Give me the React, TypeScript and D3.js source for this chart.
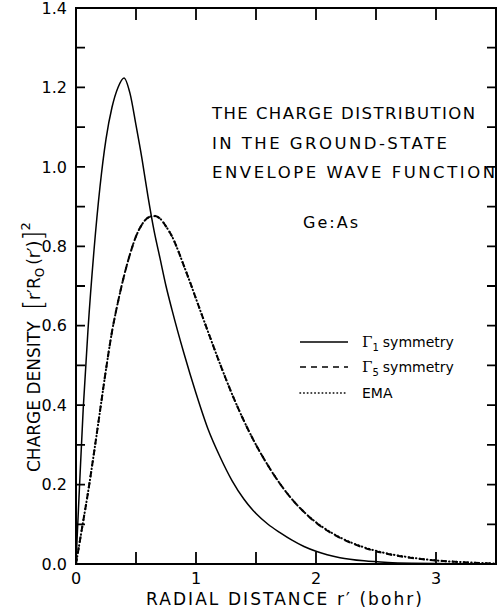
import React, { useEffect, useRef } from "react";
import * as d3 from "d3";

// radial distance r' (bohr) and charge density
const rGamma1 = [0, 0.01, 0.03, 0.06, 0.1, 0.15, 0.2, 0.25, 0.3, 0.35, 0.4, 0.45, 0.5, 0.55, 0.6, 0.65, 0.7, 0.75, 0.8, 0.9, 1.0, 1.1, 1.2, 1.3, 1.4, 1.5, 1.6, 1.7, 1.8, 1.9, 2.0, 2.2, 2.4, 2.6, 2.8, 3.0, 3.2, 3.5];
const gamma1 = [0, 0.07, 0.2, 0.39, 0.59, 0.79, 0.95, 1.07, 1.15, 1.2, 1.224, 1.185, 1.105, 1.02, 0.925, 0.84, 0.77, 0.7, 0.64, 0.53, 0.43, 0.34, 0.27, 0.21, 0.163, 0.127, 0.1, 0.079, 0.06, 0.044, 0.032, 0.016, 0.008, 0.004, 0.002, 0.001, 0.0005, 0];

const rGamma5 = [0, 0.05, 0.1, 0.15, 0.2, 0.25, 0.3, 0.35, 0.4, 0.45, 0.5, 0.55, 0.6, 0.65, 0.7, 0.75, 0.8, 0.85, 0.9, 0.95, 1.0, 1.1, 1.2, 1.3, 1.4, 1.5, 1.6, 1.7, 1.8, 1.9, 2.0, 2.2, 2.4, 2.6, 2.8, 3.0, 3.2, 3.5];
const gamma5 = [0, 0.09, 0.18, 0.28, 0.385, 0.49, 0.585, 0.66, 0.725, 0.78, 0.825, 0.855, 0.872, 0.877, 0.87, 0.85, 0.825, 0.79, 0.75, 0.71, 0.668, 0.585, 0.504, 0.428, 0.36, 0.3, 0.248, 0.202, 0.163, 0.131, 0.104, 0.066, 0.041, 0.025, 0.015, 0.009, 0.005, 0.001];
const ema = [0, 0.09, 0.18, 0.28, 0.385, 0.49, 0.585, 0.66, 0.725, 0.78, 0.825, 0.855, 0.872, 0.876, 0.87, 0.85, 0.825, 0.79, 0.75, 0.71, 0.668, 0.585, 0.504, 0.428, 0.36, 0.3, 0.248, 0.202, 0.163, 0.131, 0.105, 0.067, 0.042, 0.026, 0.016, 0.009, 0.005, 0.001];

const xTicks = [0.5, 1, 1.5, 2, 2.5, 3];
const xLabels = [0, 1, 2, 3];
const yLabels = [0, 0.2, 0.4, 0.6, 0.8, 1.0, 1.2, 1.4];
const yTicks = [0.1, 0.2, 0.3, 0.4, 0.5, 0.6, 0.7, 0.8, 0.9, 1.0, 1.1, 1.2, 1.3];

const titleLines = ["THE CHARGE DISTRIBUTION", "IN THE GROUND-STATE", "ENVELOPE WAVE FUNCTION"];
const titleWidths = [263, 235, 283];

const font = "'DejaVu Sans', sans-serif";

const left = 76;
const right = 496;
const top = 8;
const bottom = 564;

const x = d3.scaleLinear().domain([0, 3.5]).range([left, right]);
const y = d3.scaleLinear().domain([0, 1.4]).range([bottom, top]);

const App = () => {
  const ref = useRef<SVGSVGElement>(null);

  useEffect(() => {
    const svg = d3.select(ref.current).select("g.chart");
    svg.selectAll("*").remove();

    const line = (xs) =>
      d3
        .line<number>()
        .x((d, i) => x(xs[i]))
        .y((d) => y(d))
        .curve(d3.curveMonotoneX);

    svg
      .append("path")
      .attr("d", line(rGamma5)(gamma5))
      .attr("fill", "none")
      .attr("stroke", "#000")
      .attr("stroke-width", 2)
      .attr("stroke-dasharray", "6,5");

    svg
      .append("path")
      .attr("d", line(rGamma5)(ema))
      .attr("fill", "none")
      .attr("stroke", "#000")
      .attr("stroke-width", 2)
      .attr("stroke-linecap", "round")
      .attr("stroke-dasharray", "0.5,3.2");

    svg
      .append("path")
      .attr("d", line(rGamma1)(gamma1))
      .attr("fill", "none")
      .attr("stroke", "#000")
      .attr("stroke-width", 1.5);

    const legend = [
      { dash: null, w: 1.5, label: "symmetry", sub: "1", y: 342 },
      { dash: "6,5", w: 1.6, label: "symmetry", sub: "5", y: 367 },
      { dash: "0.5,3.2", w: 1.6, label: "EMA", sub: null, y: 393 },
    ];
    legend.forEach((l) => {
      svg
        .append("line")
        .attr("x1", 300)
        .attr("x2", 348)
        .attr("y1", l.y)
        .attr("y2", l.y)
        .attr("stroke", "#000")
        .attr("stroke-width", l.w)
        .attr("stroke-linecap", l.dash === "0.5,3.2" ? "round" : "butt")
        .attr("stroke-dasharray", l.dash);
      const t = svg
        .append("text")
        .attr("x", 362)
        .attr("y", l.y + 5)
        .style("font-family", font)
        .style("font-size", "14px");
      if (l.sub) {
        t.append("tspan").style("font-family", "'DejaVu Serif', serif").style("font-size", "15px").text("Γ");
        t.append("tspan").attr("dy", 4).style("font-size", "10px").text(l.sub);
        t.append("tspan").attr("dy", -4).attr("dx", 4).text(l.label);
      } else {
        t.append("tspan").text(l.label);
      }
    });

    const yl = svg
      .append("text")
      .attr("transform", "translate(40,472) rotate(-90)")
      .style("font-family", font)
      .style("font-size", "17px");
    yl.append("tspan").text("CHARGE DENSITY ");
    yl.append("tspan").attr("dx", 6).attr("dy", 2).style("font-size", "26px").style("font-weight", "200").text("[");
    yl.append("tspan").attr("dy", -2).text("r\u2032R");
    yl.append("tspan").attr("dy", 4).style("font-size", "12px").text("O");
    yl.append("tspan").attr("dy", -4).attr("dx", 3).text("(r\u2032)");
    yl.append("tspan").attr("dy", 2).style("font-size", "26px").style("font-weight", "200").text("]");
    yl.append("tspan").attr("dy", -12).style("font-size", "13px").text("2");
  }, []);

  return (
    <svg
      ref={ref}
      width={500}
      height={610}
      style={{ position: "absolute", left: 0, top: 0, background: "#fff" }}
    >
      <rect x={left} y={top} width={right - left} height={bottom - top} fill="none" stroke="#000" strokeWidth={2} />
      {xTicks.map((d) => (
        <path
          key={"x" + d}
          d={`M${x(d)},${bottom}V${bottom - 12}M${x(d)},${top}V${top + 12}`}
          fill="none"
          stroke="#000"
          strokeWidth={1.8}
        />
      ))}
      {yTicks.map((d) => (
        <path
          key={"y" + d}
          d={`M${left},${y(d)}H${left + 9}M${right},${y(d)}H${right - 9}`}
          fill="none"
          stroke="#000"
          strokeWidth={1.8}
        />
      ))}
      {yLabels.map((d) => (
        <text key={"yl" + d} x={67} y={y(d)} dy="0.36em" textAnchor="end" fontFamily={font} fontSize={16}>
          {d3.format(".1f")(d)}
        </text>
      ))}
      {xLabels.map((d) => (
        <text key={"xl" + d} x={x(d)} y={584} textAnchor="middle" fontFamily={font} fontSize={16}>
          {d}
        </text>
      ))}
      {titleLines.map((d, i) => (
        <text
          key={d}
          x={212}
          y={119 + i * 29.5}
          textLength={titleWidths[i]}
          lengthAdjust="spacing"
          fontFamily={font}
          fontSize={16.5}
        >
          {d}
        </text>
      ))}
      <text x={303} y={228} textLength={55} fontFamily={font} fontSize={16}>
        Ge:As
      </text>
      <text x={146} y={605} textLength={276} lengthAdjust="spacing" fontFamily={font} fontSize={17}>
        RADIAL DISTANCE r{"\u2032"} (bohr)
      </text>
      <g className="chart" />
    </svg>
  );
};

export default App;
